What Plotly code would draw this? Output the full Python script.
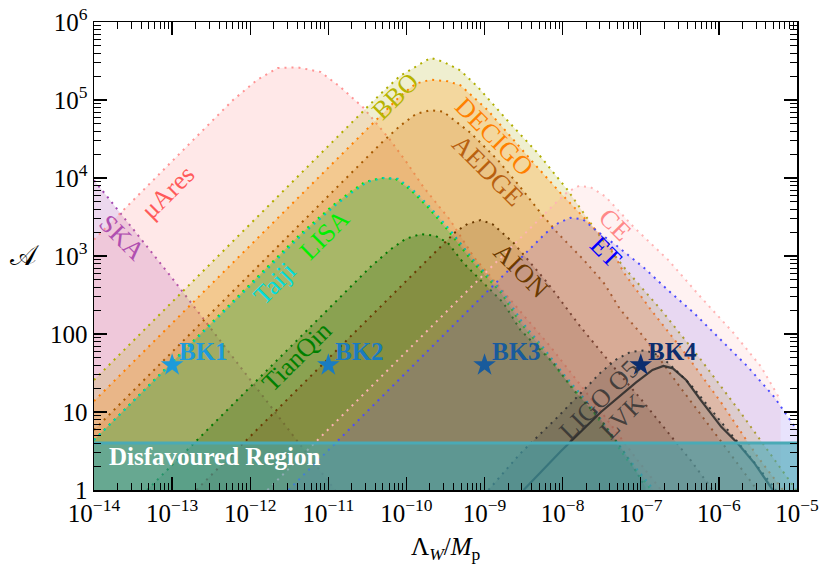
import numpy as np
import plotly.graph_objects as go

# ---------------- data (log10 values) ----------------
ska_lx = [-14.0, -13.87, -13.01, -12.17, -11.44, -10.90]
ska_ly = [3.97, 3.81, 2.73, 1.63, 0.68, -0.02]

muares_lx = [-14.0, -12.22, -11.91, -11.65, -11.40, -11.10, -10.85, -10.55, -10.21, -9.99,
             -9.78, -9.44, -9.14, -8.67, -8.15, -7.55, -7.04, -6.74]
muares_ly = [3.21, 5.00, 5.26, 5.41, 5.42, 5.36, 5.17, 4.90, 4.49, 4.19,
             3.88, 3.46, 2.99, 2.44, 1.83, 1.06, 0.38, 0.0]

bbo_lx = [-14.0, -10.33, -10.08, -9.82, -9.69, -9.53, -9.31, -9.09, -8.71, -8.32,
          -7.94, -7.55, -7.22, -6.74, -6.23, -5.72, -5.33, -5.01]
bbo_ly = [1.41, 5.08, 5.31, 5.47, 5.54, 5.49, 5.38, 5.17, 4.74, 4.32,
          3.85, 3.29, 2.86, 2.31, 1.67, 0.99, 0.45, 0.0]

decigo_lx = [-14.0, -10.33, -10.08, -9.88, -9.69, -9.47, -9.31, -8.96, -8.67, -8.37,
             -8.03, -7.73, -7.42, -7.22, -6.87, -6.40, -5.97, -5.50, -5.24, -5.18]
decigo_ly = [1.14, 4.81, 5.05, 5.21, 5.26, 5.24, 5.19, 4.87, 4.53, 4.19,
             3.81, 3.50, 3.17, 2.79, 2.31, 1.71, 1.12, 0.42, 0.09, 0.0]

aedge_lx = [-14.0, -10.33, -10.08, -9.88, -9.69, -9.53, -9.18, -8.83, -8.54, -8.28,
            -8.06, -7.73, -7.47, -7.26, -6.96, -6.49, -5.97, -5.51]
aedge_ly = [0.77, 4.44, 4.67, 4.82, 4.87, 4.85, 4.58, 4.23, 3.88, 3.55,
            3.29, 2.95, 2.65, 2.31, 1.96, 1.31, 0.62, 0.0]

lisa_lx = [-14.0, -11.36, -10.94, -10.72, -10.53, -10.33, -10.14, -9.95, -9.73, -9.47,
           -9.14, -8.79, -8.54, -8.28, -8.03, -7.81, -7.60, -7.38, -7.17, -6.91, -6.87]
lisa_ly = [0.64, 3.28, 3.65, 3.82, 3.95, 4.00, 3.99, 3.85, 3.63, 3.33,
           2.91, 2.53, 2.14, 1.83, 1.50, 1.24, 0.99, 0.68, 0.38, 0.06, 0.0]

taiji_lx = [-14.0, -11.33, -10.91, -10.69, -10.50, -10.30, -10.11, -9.92, -9.70, -9.44,
            -9.11, -8.76, -8.51, -8.25, -8.00, -7.78, -7.57, -7.35, -7.14, -6.88, -6.84]
taiji_ly = [0.64, 3.28, 3.65, 3.82, 3.95, 4.00, 3.99, 3.85, 3.63, 3.33,
            2.91, 2.53, 2.14, 1.83, 1.50, 1.24, 0.99, 0.68, 0.38, 0.06, 0.0]

tianqin_lx = [-13.32, -10.46, -10.21, -10.01, -9.82, -9.63, -9.47, -9.27, -9.05, -8.76,
              -8.54, -8.32, -8.12, -7.86, -7.51, -7.19, -6.94]
tianqin_ly = [0.0, 2.86, 3.08, 3.22, 3.28, 3.26, 3.17, 2.91, 2.69, 2.40,
              2.05, 1.83, 1.63, 1.28, 0.90, 0.45, 0.04]

aion_lx = [-12.69, -9.56, -9.37, -9.22, -9.05, -8.90, -8.63, -8.19, -7.77, -7.35,
           -6.96, -6.71, -6.36, -6.08]
aion_ly = [0.0, 3.13, 3.31, 3.41, 3.46, 3.41, 3.17, 2.65, 2.09, 1.58,
           1.12, 0.81, 0.38, 0.0]

ce_lx = [-11.78, -8.28, -8.09, -7.94, -7.79, -7.64, -7.45, -7.09, -6.65, -6.23,
         -5.81, -5.46, -5.21]
ce_ly = [0.0, 3.50, 3.68, 3.82, 3.90, 3.88, 3.76, 3.37, 2.95, 2.47,
         2.01, 1.58, 1.15]

et_lx = [-11.51, -8.41, -8.22, -8.06, -7.90, -7.74, -7.55, -7.32, -6.96, -6.65,
         -6.32, -5.97, -5.63, -5.29, -5.0]
et_ly = [0.0, 3.10, 3.29, 3.42, 3.49, 3.47, 3.31, 3.14, 2.85, 2.56,
         2.27, 1.92, 1.58, 1.19, 0.77]

ligo_lx = [-8.95, -8.54, -8.06, -7.77, -7.51, -7.32, -7.13, -6.94, -6.78, -6.65,
           -6.36, -5.97, -5.59, -5.27]
ligo_ly = [0.0, 0.47, 0.94, 1.24, 1.51, 1.67, 1.77, 1.79, 1.73, 1.63,
           1.35, 0.87, 0.41, 0.0]

lvk_lx = [-8.50, -8.03, -7.51, -7.06, -6.85, -6.71, -6.59, -6.42, -6.23, -5.97,
          -5.76, -5.55, -5.31]
lvk_ly = [0.0, 0.49, 1.00, 1.38, 1.54, 1.59, 1.56, 1.41, 1.15, 0.81,
          0.60, 0.35, 0.0]

bk_names = ["BK1", "BK2", "BK3", "BK4"]
bk_x = [1e-13, 1e-11, 1e-9, 1e-7]
bk_y = [40, 40, 40, 40]
bk_colors = ["#1c9bdb", "#1a7cc0", "#195b9c", "#0c2d6e"]

disfavoured_top = 4.0
x_min, x_max = 1e-14, 1e-5

x_tickvals = [10.0 ** k for k in range(-14, -4)]
x_ticktext = ["10<sup>\u2212%d</sup>" % (-k) for k in range(-14, -4)]
y_tickvals = [1, 10, 100, 1e3, 1e4, 1e5, 1e6]
y_ticktext = ["1", "10", "100", "10<sup>3</sup>", "10<sup>4</sup>", "10<sup>5</sup>", "10<sup>6</sup>"]

regions = [
    ("SKA", ska_lx, ska_ly, "rgba(160,60,170,0.20)", "#a044b0"),
    ("muAres", muares_lx, muares_ly, "rgba(255,140,140,0.20)", "#ff9494"),
    ("BBO", bbo_lx, bbo_ly, "rgba(180,180,40,0.22)", "#b0ae00"),
    ("DECIGO", decigo_lx, decigo_ly, "rgba(255,140,0,0.24)", "#ff8000"),
    ("AEDGE", aedge_lx, aedge_ly, "rgba(200,110,20,0.18)", "#a85a00"),
    ("LISA", lisa_lx, lisa_ly, "rgba(0,190,0,0.20)", "#00ee00"),
    ("Taiji", taiji_lx, taiji_ly, "rgba(0,170,170,0.10)", "#00c8c8"),
    ("TianQin", tianqin_lx, tianqin_ly, "rgba(30,90,0,0.22)", "#007a00"),
    ("AION", aion_lx, aion_ly, "rgba(110,60,0,0.18)", "#6b3a00"),
    ("CE", ce_lx, ce_ly, "rgba(255,150,150,0.12)", "#ffb4b4"),
    ("ET", et_lx, et_ly, "rgba(100,70,240,0.15)", "#4a4aff"),
    ("LIGO", ligo_lx, ligo_ly, "rgba(60,60,60,0.20)", "#3a3a3a"),
]

fig = go.Figure()

for name, lx, ly, fillc, dotc in regions:
    xs = list(lx) + [lx[-1], lx[0]]
    ys = list(ly) + [-1.0, -1.0]
    fig.add_trace(go.Scatter(
        x=[10.0 ** v for v in xs], y=[10.0 ** v for v in ys],
        mode="lines", fill="toself", fillcolor=fillc,
        line=dict(width=0), hoverinfo="skip", showlegend=False))
    fig.add_trace(go.Scatter(
        x=[10.0 ** v for v in lx], y=[10.0 ** v for v in ly],
        mode="lines", line=dict(color=dotc, width=2, dash="2px,5px"),
        hoverinfo="skip", showlegend=False))

# LVK solid curve
fig.add_trace(go.Scatter(
    x=[10.0 ** v for v in lvk_lx], y=[10.0 ** v for v in lvk_ly],
    mode="lines", line=dict(color="rgba(40,40,40,0.85)", width=2.2),
    hoverinfo="skip", showlegend=False))

# disfavoured region band
fig.add_trace(go.Scatter(
    x=[x_min, x_max, x_max, x_min], y=[0.5, 0.5, disfavoured_top, disfavoured_top],
    mode="lines", fill="toself", fillcolor="rgba(60,165,180,0.58)",
    line=dict(width=0), hoverinfo="skip", showlegend=False))
fig.add_trace(go.Scatter(
    x=[x_min, x_max], y=[disfavoured_top, disfavoured_top],
    mode="lines", line=dict(color="#4aaab6", width=3),
    hoverinfo="skip", showlegend=False))

FONT = "Liberation Serif"

# benchmark stars
for n, xv, yv, c in zip(bk_names, bk_x, bk_y, bk_colors):
    fig.add_trace(go.Scatter(
        x=[xv], y=[yv], mode="markers",
        marker=dict(symbol="star", size=17, color=c, line=dict(width=0)),
        hoverinfo="skip", showlegend=False))
    fig.add_annotation(x=np.log10(xv), y=np.log10(yv), text="<b>%s</b>" % n,
                       showarrow=False, xanchor="left", yanchor="middle",
                       xshift=5, yshift=14,
                       font=dict(family=FONT, size=25, color=c))

labels = [
    ("SKA", -13.64, 3.24, 45, "#b04fb0"),
    ("\u03bcAres", -13.06, 3.82, -45, "#ff5a5a"),
    ("BBO", -10.14, 5.04, -45, "#b8b400"),
    ("DECIGO", -8.88, 4.53, 45, "#ff8000"),
    ("AEDGE", -8.96, 4.10, 45, "#b86010"),
    ("Taiji", -11.69, 2.65, -45, "#00dede"),
    ("LISA", -11.04, 3.27, -45, "#00f000"),
    ("TianQin", -11.40, 1.71, -45, "#008000"),
    ("AION", -8.53, 2.82, 45, "#6b3a00"),
    ("CE", -7.33, 3.41, 45, "#ff8888"),
    ("ET", -7.44, 3.05, 45, "#0000ff"),
    ("LIGO O5", -7.54, 1.15, -45, "rgba(50,50,50,0.85)"),
    ("LVK", -7.23, 0.94, -45, "rgba(50,50,50,0.85)"),
]
for t, lx, ly, ang, c in labels:
    fig.add_annotation(x=lx, y=ly, text=t, showarrow=False, textangle=ang,
                       font=dict(family=FONT, size=26, color=c))

fig.add_annotation(x=-13.83, y=np.log10(2.65), text="<b>Disfavoured Region</b>",
                   showarrow=False, xanchor="left", yanchor="middle",
                   font=dict(family=FONT, size=25, color="white"))

# axis titles
fig.add_annotation(xref="paper", yref="paper", x=0.5, y=-0.125,
                   text="\u039b<sub><i>W</i></sub>/<i>M</i><sub>p</sub>",
                   showarrow=False, xanchor="center", yanchor="middle",
                   font=dict(family=FONT, size=25, color="black"))
fig.add_annotation(xref="paper", yref="paper", x=-0.098, y=0.502,
                   text="\U0001D49C", showarrow=False,
                   xanchor="center", yanchor="middle",
                   font=dict(family=FONT, size=28, color="black"))

minor_x = [k * 10.0 ** d for d in range(-14, -5) for k in range(2, 10)]
minor_y = [k * 10.0 ** d for d in range(0, 6) for k in range(2, 10)]

axis_common = dict(
    type="log", showgrid=False, zeroline=False, showline=True,
    linecolor="black", linewidth=1.5, mirror="allticks",
    ticks="inside", ticklen=13, tickwidth=1.3, tickcolor="black",
    tickmode="array", tickfont=dict(family=FONT, size=25, color="black"),
    automargin=False, ticklabeloverflow="allow",
)

fig.update_xaxes(
    range=[-14, -5], tickvals=x_tickvals, ticktext=x_ticktext,
    minor=dict(tickvals=minor_x, ticks="inside", ticklen=7, tickwidth=1, tickcolor="black"),
    **axis_common)
fig.update_yaxes(
    range=[0, 6], tickvals=y_tickvals, ticktext=y_ticktext,
    minor=dict(tickvals=minor_y, ticks="inside", ticklen=7, tickwidth=1, tickcolor="black"),
    **axis_common)

fig.update_layout(
    width=820, height=572,
    margin=dict(l=94, r=23, t=22, b=82),
    paper_bgcolor="white", plot_bgcolor="white",
    showlegend=False,
)

# remove the default page margin so the 820x572 figure fills the window exactly
fig.write_html(
    "out.html",
    config={"displayModeBar": False, "staticPlot": True},
    post_script="document.body.style.margin='0';document.body.style.overflow='hidden';",
)
